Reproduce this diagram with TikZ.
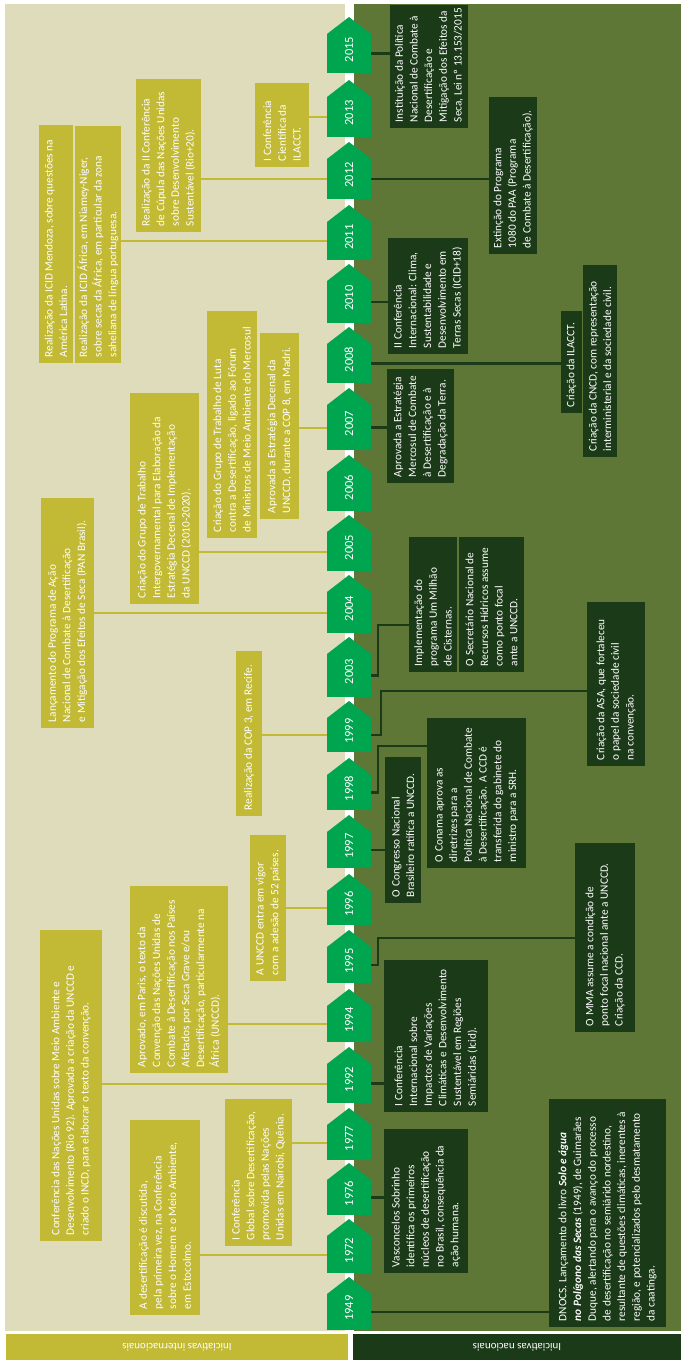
\documentclass[tikz,border=0pt]{standalone}
\usepackage{fontspec}
\setmainfont{Carlito}
\definecolor{beige}{RGB}{222,220,186}
\definecolor{gold}{RGB}{194,185,52}
\definecolor{olive}{RGB}{94,119,54}
\definecolor{dkgreen}{RGB}{27,58,24}
\definecolor{mkgreen}{RGB}{0,165,80}
\newcommand\tlbox[7]{%
  \pgfmathsetmacro\bxcx{(#3+#5)/2}%
  \pgfmathsetmacro\bxcy{(#4+#6)/2}%
  \pgfmathsetmacro\bxw{#6-#4}%
  \pgfmathsetmacro\bxh{#5-#3}%
  \node[#1, minimum width=\bxw pt, minimum height=\bxh pt] (#2) at (\bxcx,\bxcy) {};
  \node[tbtext, anchor=west] (#2t) at ([yshift=6pt]#2.west) {#7};}
\newcommand\yrmark[3]{%
  \pgfmathsetmacro\mkc{(#2+17+#3)/2}%
  \pgfmathsetmacro\mkh{#3-#2-17}%
  \node[yr, minimum height=\mkh pt] (y#1) at (349,\mkc) {\rotatebox{90}{\hspace{8pt}#1}};
  \fill[mkgreen] (y#1.north west) -- (349,#2) -- (y#1.north east) -- cycle;}
\begin{document}
\begin{tikzpicture}[x=1pt,y=-1pt,
  tb/.style={rotate=90, inner sep=0pt, outer sep=0pt},
  tbtext/.style={rotate=90, text=white, align=left, inner sep=0pt, outer sep=0pt, font=\fontsize{11.3}{14.7}\selectfont},
  ibox/.style={tb, fill=gold},
  nbox/.style={tb, fill=dkgreen},
  yr/.style={fill=mkgreen, text=white, minimum width=44pt, inner sep=0pt, outer sep=0pt, font=\fontsize{12.5}{13}\selectfont},
  foot/.style={rotate=180, text=white, inner sep=0pt, minimum height=26pt, font=\fontsize{11}{12}\selectfont},
  gline/.style={gold, line width=2pt},
  nline/.style={dkgreen, line width=2.6pt}]
\useasboundingbox (0,0) rectangle (681,1360);
\fill[white] (0,0) rectangle (681,1360);
\fill[beige] (5,4) rectangle (345,1331);
\fill[olive] (354,4) rectangle (681,1331);

% international boxes
\tlbox{ibox}{L1}{255}{83}{309}{167}{I Conferência\\Científica da\\ILACCT.}
\tlbox{ibox}{L2}{136}{79}{201}{232}{Realização da II Conferência\\de Cúpula das Nações Unidas\\sobre Desenvolvimento\\Sustentável (Rio+20).}
\tlbox{ibox}{L3}{39}{125}{73}{363}{Realização da ICID Mendoza, sobre questões na\\América Latina.}
\tlbox{ibox}{L4}{75}{126}{121}{363}{Realização da ICID África, em Niamey-Niger,\\sobre secas da África, em particular da zona\\saheliana de língua portuguesa.}
\tlbox{ibox}{L5}{207}{311}{257}{538}{Criação do Grupo de Trabalho de Luta\\contra a Desertificação, ligado ao Fórum\\de Ministros de Meio Ambiente do Mercosul}
\tlbox{ibox}{L6}{260}{333}{299}{519}{Aprovada a Estratégia Decenal da\\UNCCD, durante a COP 8, em Madri.}
\tlbox{ibox}{L7}{130}{393}{199}{604}{Criação do Grupo de Trabalho\\Intergovernamental para Elaboração da\\Estratégia Decenal de Implementação\\da UNCCD (2010-2020).}
\tlbox{ibox}{L8}{41}{498}{94}{728}{Lançamento do Programa de Ação\\Nacional de Combate à Desertificação\\e Mitigação dos Efeitos de Seca (PAN Brasil).}
\tlbox{ibox}{L9}{236}{651}{262}{816}{Realização da COP 3, em Recife.}
\tlbox{ibox}{L10}{250}{835}{286}{981}{A UNCCD entra em vigor\\com a adesão de 52 países.}
\tlbox{ibox}{L11}{130}{886}{228}{1073}{Aprovado, em Paris, o texto da\\Convenção das Nações Unidas de\\Combate à Desertificação nos Países\\Afetados por Seca Grave e/ou\\Desertificação, particularmente na\\África (UNCCD).}
\tlbox{ibox}{L12}{40}{930}{102}{1241}{Conferência das Nações Unidas sobre Meio Ambiente e\\Desenvolvimento (Rio 92). Aprovada a criação da UNCCD e\\criado o INCD, para elaborar o texto da convenção.}
\tlbox{ibox}{L13}{225}{1099}{292}{1246}{I Conferência\\Global sobre Desertificação,\\promovida pelas Nações\\Unidas em Nairobi, Quênia.}
\tlbox{ibox}{L14}{130}{1120}{200}{1315}{A desertificação é discutida,\\pela primeira vez, na Conferência\\sobre o Homem e o Meio Ambiente,\\em Estocolmo.}

% national boxes
\tlbox{nbox}{R1}{390}{5}{468}{128}{Instituição da Política\\Nacional de Combate à\\Desertificação e\\Mitigação dos Efeitos da\\Seca, Lei nº 13.153/2015}
\tlbox{nbox}{R2}{489}{97}{537}{254}{Extinção do Programa\\1080 do PAA (Programa\\de Combate à Desertificação).}
\tlbox{nbox}{R3}{388}{238}{468}{354}{II Conferência\\Internacional: Clima,\\Sustentabilidade e\\Desenvolvimento em\\Terras Secas (ICID+18)}
\tlbox{nbox}{R4}{561}{311}{582}{413}{Criação da ILACCT.}
\tlbox{nbox}{R5}{583}{265}{617}{457}{Criação da CNCD, com representação\\interministerial e da sociedade civil.}
\tlbox{nbox}{R6}{387}{369}{454}{483}{Aprovada a Estratégia\\Mercosul de Combate\\à Desertificação e à\\Degradação da Terra.}
\tlbox{nbox}{R7}{409}{537}{457}{672}{Implementação do\\programa Um Milhão\\de Cisternas.}
\tlbox{nbox}{R8}{459}{537}{524}{672}{O Secretário Nacional de\\Recursos Hídricos assume\\como ponto focal\\ante a UNCCD.}
\tlbox{nbox}{R9}{587}{602}{645}{766}{Criação da ASA, que fortaleceu\\o papel da sociedade civil\\na convenção.}
\tlbox{nbox}{R10}{427}{718}{526}{868}{O Conama aprova as\\diretrizes para a\\Política Nacional de Combate\\à Desertificação. A CCD é\\transferida do gabinete do\\ministro para a SRH.}
\tlbox{nbox}{R11}{385}{757}{421}{903}{O Congresso Nacional\\Brasileiro ratifica a UNCCD.}
\tlbox{nbox}{R12}{575}{843}{635}{1032}{O MMA assume a condição de\\ponto focal nacional ante a UNCCD.\\Criação da CCD.}
\tlbox{nbox}{R13}{384}{960}{488}{1112}{I Conferência\\Internacional sobre\\Impactos de Variações\\Climáticas e Desenvolvimento\\Sustentável em Regiões\\Semiáridas (Icid).}
\tlbox{nbox}{R14}{384}{1129}{468}{1273}{Vasconcelos Sobrinho\\identifica os primeiros\\núcleos de desertificação\\no Brasil, consequência da\\ação humana.}
\tlbox{nbox}{R15}{549}{1099}{666}{1327}{DNOCS. Lançamento do livro \textbf{\textit{Solo e água}}\\\textbf{\textit{no Polígono das Secas}} (1949), de Guimarães\\Duque, alertando para o avanço do processo\\de desertificação no semiárido nordestino,\\resultante de questões climáticas, inerentes à\\região, e potencializados pelo desmatamento\\da caatinga.}

% year markers
\yrmark{2015}{17}{73}
\yrmark{2013}{80}{137}
\yrmark{2012}{142}{199}
\yrmark{2011}{205}{260}
\yrmark{2010}{264}{323}
\yrmark{2008}{327}{383}
\yrmark{2007}{388}{450}
\yrmark{2006}{455}{511}
\yrmark{2005}{515}{571}
\yrmark{2004}{575}{633}
\yrmark{2003}{637}{697}
\yrmark{1999}{701}{752}
\yrmark{1998}{758}{810}
\yrmark{1997}{815}{868}
\yrmark{1996}{874}{925}
\yrmark{1995}{930}{983}
\yrmark{1994}{989}{1042}
\yrmark{1992}{1047}{1103}
\yrmark{1977}{1108}{1160}
\yrmark{1976}{1163}{1215}
\yrmark{1972}{1219}{1273}
\yrmark{1949}{1277}{1330}

% international connectors
\draw[gline] (y2013.west) -- (y2013.west -| L1.south);
\draw[gline] (y2012.west) -- (y2012.west -| L2.south);
\draw[gline] (y2011.west) -- (y2011.west -| L4.south);
\draw[gline] (y2007.west) -- (y2007.west -| L6.south);
\draw[gline] (y2005.west) -- (y2005.west -| L7.south);
\draw[gline] (y2004.west) -- (y2004.west -| L8.south);
\draw[gline] (y1999.west) -- (y1999.west -| L9.south);
\draw[gline] (y1996.west) -- (y1996.west -| L10.south);
\draw[gline] (y1994.west) -- (y1994.west -| L11.south);
\draw[gline] (y1992.west) -- (y1992.west -| L12.south);
\draw[gline] (y1977.west) -- (y1977.west -| L13.south);
\draw[gline] (y1972.west) -- (y1972.west -| L14.south);

% national connectors
\coordinate (k2003) at (378,625);
\coordinate (k1999) at (381,691);
\coordinate (k1998) at (378,746);
\coordinate (k1995) at (378,938);
\draw[nline] (y2015.east) -- (y2015.east -| R1.north);
\draw[nline] (y2012.east) -- (y2012.east -| R2.north);
\draw[nline] (y2010.east) -- (y2010.east -| R3.north);
\draw[nline] (y2008.east) -- (y2008.east -| R4.north);
\draw[nline] (y2007.east) -- (y2007.east -| R6.north);
\draw[nline] (y2003.east) -| (k2003) -- (k2003 -| R7.north);
\draw[nline] (y1999.east) -| (k1999) -- (k1999 -| R9.north);
\draw[nline] (y1998.east) -| (k1998) -- (k1998 -| R10.north);
\draw[nline] (y1997.east) -- (y1997.east -| R11.north);
\draw[nline] (y1995.east) -| (k1995) -- (k1995 -| R12.north);
\draw[nline] (y1992.east) -- (y1992.east -| R13.north);
\draw[nline] (y1976.east) -- (y1976.east -| R14.north);
\draw[nline] (y1949.east) -- (y1949.east -| R15.north);

% footers
\node[foot, fill=gold, minimum width=342pt] (fl) at (177,1347) {Iniciativas internacionais};
\node[foot, fill=dkgreen, minimum width=328pt] (fr) at (517,1347) {Iniciativas nacionais};
\end{tikzpicture}
\end{document}
